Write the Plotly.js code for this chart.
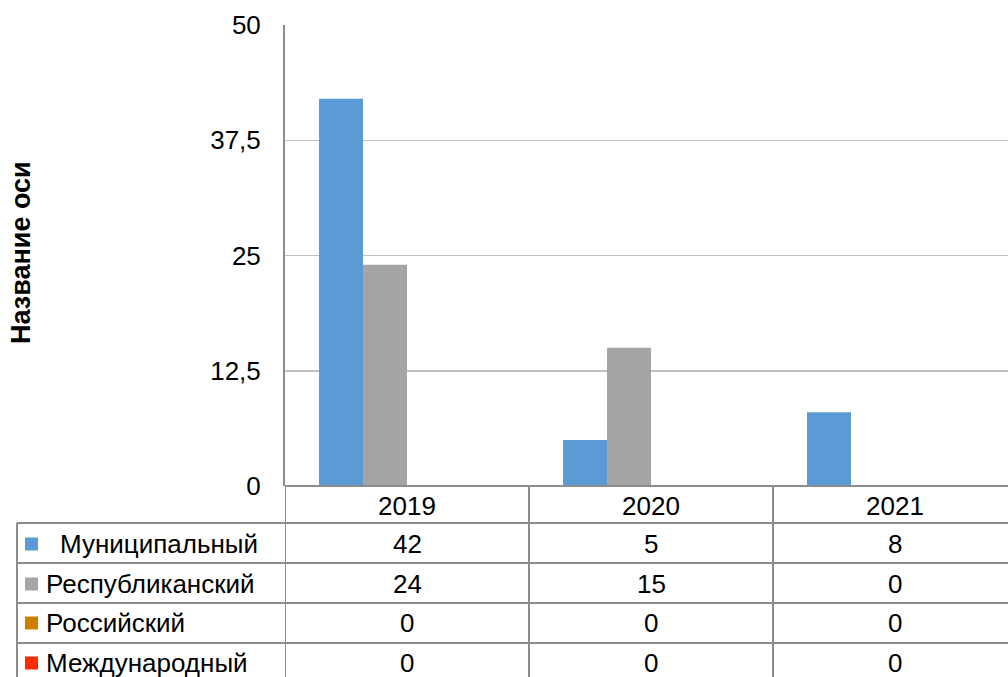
<!DOCTYPE html>
<html>
<head>
<meta charset="utf-8">
<script src="https://cdn.plot.ly/plotly-3.0.1.min.js"></script>
<style>html,body{margin:0;padding:0;background:#fff;}#chart{width:1008px;height:677px;}</style>
</head>
<body>
<div id="chart"></div>
<script>
// ---- data ----
const categories = ["2019", "2020", "2021"];
const seriesNames = ["Муниципальный", "Республиканский", "Российский", "Международный"];
const municipal = [42, 5, 8];
const republican = [24, 15, 0];
const russian = [0, 0, 0];
const international = [0, 0, 0];
const yTickVals = [0, 12.5, 25, 37.5, 50];
const yAxisTitle = "Название оси";

const seriesValues = [municipal, republican, russian, international];
const colors = ["#5B9BD5", "#A5A5A5", "#CC8000", "#FF2A00"];

// ---- layout geometry (pixels) ----
const W = 1008, H = 677;
const L = 285, T = 25, B = 486;
const plotW = W - L, plotH = B - T;
const px2x = p => (p - L) / plotW;
const py2y = p => (B - p) / plotH;
const catW = 244; // pixel width of one category
const xMax = -0.5 + plotW / catW;

const FONT = "Liberation Sans, Arial, sans-serif";
const FS = 26;
const lineCol = "#8C8C8C";

const traces = seriesNames.map((name, i) => ({
  type: "bar",
  name: name,
  x: [0, 1, 2],
  y: seriesValues[i],
  marker: {color: colors[i]},
  hoverinfo: "skip"
}));

const shapes = [];
const annotations = [];
const rowLines = [523, 563, 603, 643];
const rowCenters = [544, 584, 623, 663];

// horizontal table lines
rowLines.forEach(py => shapes.push({type: "line", xref: "paper", yref: "paper",
  x0: px2x(17), x1: 1.2, y0: py2y(py), y1: py2y(py), line: {color: lineCol, width: 2}}));
// bottom axis / table top line
shapes.push({type: "line", xref: "paper", yref: "paper", x0: 0, x1: 1.2, y0: 0, y1: 0,
  line: {color: lineCol, width: 2}});
// left table border
shapes.push({type: "line", xref: "paper", yref: "paper", x0: px2x(17), x1: px2x(17),
  y0: py2y(523), y1: py2y(700), line: {color: lineCol, width: 2}});
// column boundaries
[-0.5, 0.5, 1.5, 2.5].forEach(cx => shapes.push({type: "line", xref: "x", yref: "paper",
  x0: cx, x1: cx, y0: 0, y1: py2y(700), line: {color: lineCol, width: 2}}));

// header years
categories.forEach((c, j) => annotations.push({xref: "x", yref: "paper", x: j, y: py2y(506),
  text: c, showarrow: false, xanchor: "center", yanchor: "middle",
  font: {family: FONT, size: FS, color: "#000"}}));

// rows
seriesNames.forEach((name, i) => {
  shapes.push({type: "rect", xref: "paper", yref: "paper",
    x0: px2x(25), x1: px2x(38), y0: py2y(rowCenters[i] - 6.5), y1: py2y(rowCenters[i] + 6.5),
    fillcolor: colors[i], line: {width: 0}});
  annotations.push({xref: "paper", yref: "paper", x: px2x(i === 0 ? 58 : 44), y: py2y(rowCenters[i]),
    text: name, showarrow: false, xanchor: "left", yanchor: "middle",
    font: {family: FONT, size: FS, color: "#000"}});
  seriesValues[i].forEach((v, j) => annotations.push({xref: "x", yref: "paper", x: j,
    y: py2y(rowCenters[i]), text: String(v), showarrow: false, xanchor: "center", yanchor: "middle",
    font: {family: FONT, size: FS, color: "#000"}}));
});

// y axis title
annotations.push({xref: "paper", yref: "paper", x: px2x(21), y: py2y(253), text: yAxisTitle,
  textangle: -90, showarrow: false, xanchor: "center", yanchor: "middle",
  font: {family: FONT, size: 27, color: "#000", weight: "bold"}});

const layout = {
  width: W, height: H,
  margin: {l: L, r: 0, t: T, b: H - B, pad: 0},
  paper_bgcolor: "#fff", plot_bgcolor: "#fff",
  separators: ", ",
  barmode: "group",
  bargap: 0.279,
  bargroupgap: 0,
  showlegend: false,
  font: {family: FONT, size: FS, color: "#000"},
  xaxis: {range: [-0.5, xMax], showticklabels: false, showgrid: false, zeroline: false,
    showline: false, ticks: "", fixedrange: true},
  yaxis: {range: [0, 50], tickvals: yTickVals, tickmode: "array",
    showgrid: true, gridcolor: "#C0C0C0", gridwidth: 1.5, zeroline: false,
    showline: true, linecolor: lineCol, linewidth: 2,
    ticks: "outside", ticklen: 17, tickcolor: "rgba(0,0,0,0)",
    tickfont: {family: FONT, size: FS, color: "#000"}, fixedrange: true},
  shapes: shapes,
  annotations: annotations
};

Plotly.newPlot("chart", traces, layout, {staticPlot: true, displayModeBar: false});
</script>
</body>
</html>
